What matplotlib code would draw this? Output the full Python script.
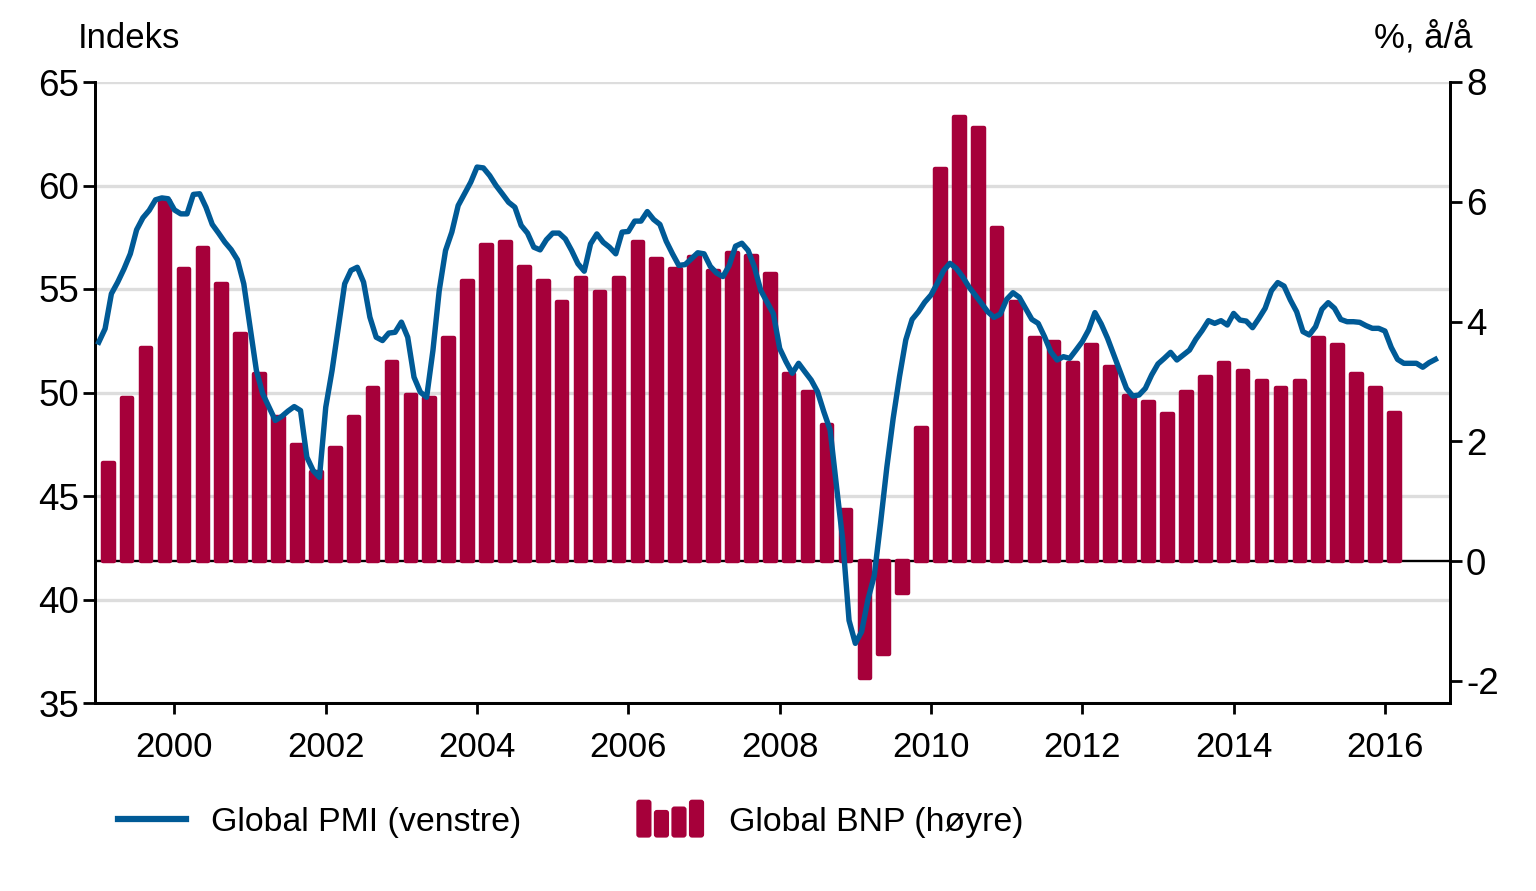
import numpy as np
import matplotlib
matplotlib.use("Agg")
import matplotlib.pyplot as plt
from matplotlib import font_manager
from matplotlib.lines import Line2D
from matplotlib.patches import FancyBboxPatch, Patch
from matplotlib.legend_handler import HandlerBase

# ---------------- data ----------------
# Global PMI, monthly from Jan 1999 (left axis, index)
pmi_1999 = [52.43, 53.08, 54.77, 55.33, 55.97, 56.7, 57.86, 58.44, 58.8, 59.31, 59.4, 59.36]
pmi_2000 = [58.82, 58.63, 58.63, 59.57, 59.6, 58.95, 58.12, 57.7, 57.26, 56.9, 56.41, 55.25]
pmi_2001 = [53.16, 51.06, 49.94, 49.29, 48.65, 48.84, 49.1, 49.32, 49.13, 46.88, 46.23, 45.9]
pmi_2002 = [49.29, 51.06, 53.16, 55.25, 55.9, 56.05, 55.33, 53.64, 52.67, 52.51, 52.87, 52.91]
pmi_2003 = [53.4, 52.67, 50.74, 50.02, 49.77, 52.03, 54.93, 56.86, 57.75, 59.03, 59.6, 60.16]
pmi_2004 = [60.89, 60.85, 60.48, 60.0, 59.6, 59.19, 58.95, 58.07, 57.7, 57.02, 56.89, 57.38]
pmi_2005 = [57.7, 57.7, 57.42, 56.86, 56.22, 55.86, 57.18, 57.66, 57.26, 57.02, 56.7, 57.75]
pmi_2006 = [57.78, 58.28, 58.28, 58.74, 58.36, 58.12, 57.31, 56.7, 56.14, 56.18, 56.46, 56.75]
pmi_2007 = [56.7, 56.09, 55.77, 55.6, 56.14, 57.07, 57.21, 56.86, 56.05, 54.93, 54.36, 53.8]
pmi_2008 = [52.13, 51.49, 50.93, 51.41, 51.0, 50.6, 50.04, 49.07, 48.19, 45.5, 42.87, 38.99]
pmi_2009 = [37.88, 38.45, 40.0, 41.15, 43.7, 46.4, 48.75, 50.76, 52.54, 53.53, 53.9, 54.36]
pmi_2010 = [54.71, 55.27, 55.89, 56.24, 56.0, 55.6, 55.11, 54.71, 54.31, 53.9, 53.63, 53.79]
pmi_2011 = [54.5, 54.82, 54.6, 54.07, 53.53, 53.34, 52.7, 51.97, 51.57, 51.73, 51.65, 52.05]
pmi_2012 = [52.46, 53.02, 53.86, 53.31, 52.62, 51.81, 51.0, 50.2, 49.83, 49.88, 50.2, 50.85]
pmi_2013 = [51.38, 51.65, 51.94, 51.57, 51.81, 52.05, 52.57, 52.99, 53.47, 53.34, 53.47, 53.26]
pmi_2014 = [53.82, 53.5, 53.45, 53.13, 53.58, 54.07, 54.92, 55.31, 55.14, 54.47, 53.9, 52.94]
pmi_2015 = [52.78, 53.18, 54.02, 54.34, 54.07, 53.53, 53.42, 53.42, 53.39, 53.23, 53.1, 53.1]
pmi_2016 = [52.97, 52.18, 51.6, 51.41, 51.41, 51.41, 51.22, 51.44, 51.6]

# Global GDP, quarterly y/y % from 1999Q1 (right axis)
gdp_1999 = [1.64, 2.72, 3.55, 6.01]
gdp_2000 = [4.87, 5.22, 4.63, 3.79]
gdp_2001 = [3.13, 2.41, 1.94, 1.49]
gdp_2002 = [1.88, 2.41, 2.89, 3.32]
gdp_2003 = [2.77, 2.72, 3.73, 4.68]
gdp_2004 = [5.28, 5.33, 4.91, 4.68]
gdp_2005 = [4.32, 4.73, 4.50, 4.73]
gdp_2006 = [5.33, 5.04, 4.87, 5.07]
gdp_2007 = [4.85, 5.14, 5.09, 4.80]
gdp_2008 = [3.13, 2.82, 2.27, 0.85]
gdp_2009 = [-1.95, -1.55, -0.53, 2.23]
gdp_2010 = [6.54, 7.41, 7.23, 5.56]
gdp_2011 = [4.32, 3.72, 3.66, 3.31]
gdp_2012 = [3.60, 3.24, 2.76, 2.65]
gdp_2013 = [2.46, 2.82, 3.07, 3.30]
gdp_2014 = [3.18, 3.00, 2.89, 3.00]
gdp_2015 = [3.73, 3.60, 3.13, 2.89]
gdp_2016 = [2.48]

pmi_label = "Global PMI (venstre)"
gdp_label = "Global BNP (høyre)"
left_title = "Indeks"
right_title = "%, å/å"
year_ticks = [2000, 2002, 2004, 2006, 2008, 2010, 2012, 2014, 2016]
left_ticks = [35, 40, 45, 50, 55, 60, 65]
right_ticks = [-2, 0, 2, 4, 6, 8]

pmi = (pmi_1999 + pmi_2000 + pmi_2001 + pmi_2002 + pmi_2003 + pmi_2004 + pmi_2005 +
       pmi_2006 + pmi_2007 + pmi_2008 + pmi_2009 + pmi_2010 + pmi_2011 + pmi_2012 +
       pmi_2013 + pmi_2014 + pmi_2015 + pmi_2016)
gdp = (gdp_1999 + gdp_2000 + gdp_2001 + gdp_2002 + gdp_2003 + gdp_2004 + gdp_2005 +
       gdp_2006 + gdp_2007 + gdp_2008 + gdp_2009 + gdp_2010 + gdp_2011 + gdp_2012 +
       gdp_2013 + gdp_2014 + gdp_2015 + gdp_2016)

pmi_x = 1999 + np.arange(len(pmi)) / 12.0
gdp_x = 1999 + (np.arange(len(gdp)) + 0.5) / 4.0

# ---------------- style ----------------
def pick_font():
    for name in ["Liberation Sans Narrow", "Arial Narrow"]:
        try:
            font_manager.findfont(name, fallback_to_default=False)
            return name, True
        except Exception:
            pass
    return "Liberation Sans", False

fam, narrow = pick_font()
plt.rcParams['font.family'] = [fam, 'DejaVu Sans']
plt.rcParams['axes.unicode_minus'] = False
FS = 30 if narrow else 25
FSY = 30 if narrow else 26.5
FSL = 30 if narrow else 24.4

BLUE = "#005A96"
RED = "#A6003A"
GRID = "#DDDDDD"

fig = plt.figure(figsize=(15.36, 8.91), dpi=100)
ax = fig.add_axes([95 / 1536, 1 - 703 / 891, (1450 - 95) / 1536, (703 - 82) / 891])
ax2 = ax.twinx()

ax.set_xlim(1998.95, 2016.86)
ax.set_ylim(35, 65)
ax2.set_ylim(-2.37, 8)

ax.set_yticks(left_ticks)
ax2.set_yticks(right_ticks)
ax.set_xticks(year_ticks)
ax.set_xticklabels([str(y) for y in year_ticks])

ax.yaxis.grid(True, color=GRID, lw=2.4)
ax.set_axisbelow(True)

for a in (ax, ax2):
    a.spines['top'].set_visible(False)
    for s in ('left', 'right', 'bottom'):
        a.spines[s].set_linewidth(2.0)
ax.tick_params(axis='y', direction='out', length=8.5, width=2.0, labelsize=FSY, pad=3)
ax2.tick_params(axis='y', direction='out', length=8.5, width=2.0, labelsize=FSY, pad=3)
ax.tick_params(axis='x', direction='out', length=8, width=2.0, labelsize=FS, pad=12)

# bars (right axis)
ax2.bar(gdp_x, gdp, width=0.14, color=RED, edgecolor=RED, linewidth=3.2,
        joinstyle='round', zorder=3)
ax2.axhline(0, color='black', lw=1.7, zorder=2)

# PMI line (left-axis scale, drawn above bars)
ax2.plot(pmi_x, pmi, color=BLUE, lw=3.9, transform=ax.transData, zorder=5,
         solid_joinstyle='round')

fig.text(78 / 1536, 1 - 38 / 891, left_title, fontsize=FS, va='center', ha='left')
fig.text(1472 / 1536, 1 - 38 / 891, right_title, fontsize=FS, va='center', ha='right')


class BarIconHandler(HandlerBase):
    def create_artists(self, legend, orig_handle, xdescent, ydescent,
                       width, height, fontsize, trans):
        fracs = [1.0, 0.73, 0.82, 1.0]
        n = len(fracs)
        gap = width * 0.035
        w = (width - gap * (n - 1)) / n
        H = height * 1.6
        y0 = -ydescent + height / 2 - H / 2
        arts = []
        for i, f in enumerate(fracs):
            x0 = -xdescent + i * (w + gap)
            r = w * 0.2
            p = FancyBboxPatch((x0 + r, y0 + r), w - 2 * r, H * f - 2 * r,
                               boxstyle="round,pad=%f" % r,
                               facecolor=RED, edgecolor='none', transform=trans)
            arts.append(p)
        return arts


h_line = Line2D([], [], color=BLUE, lw=4.5)
h_bar = Patch(color=RED)
fig.legend([h_line, h_bar], [pmi_label, gdp_label], ncol=2, frameon=False,
           loc='center left', bbox_to_anchor=(118 / 1536, 1 - 822 / 891),
           fontsize=FSL, handlelength=2.0, handletextpad=0.74, columnspacing=3.4,
           borderpad=0, borderaxespad=0, handler_map={Patch: BarIconHandler()})

fig.savefig("out.png", dpi=100)
